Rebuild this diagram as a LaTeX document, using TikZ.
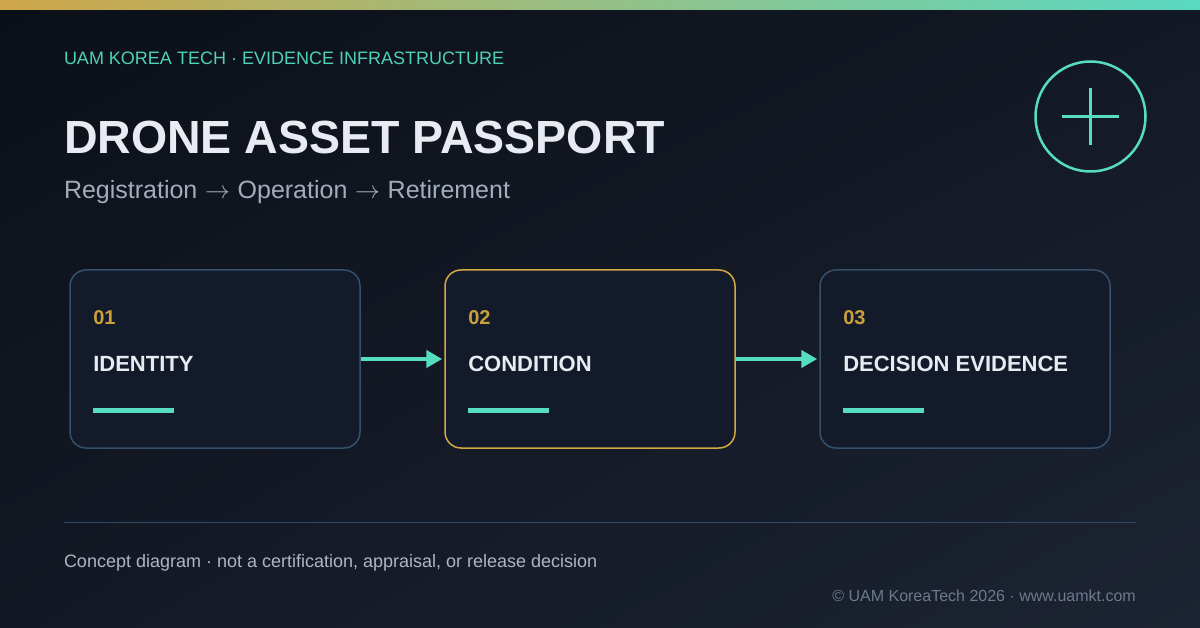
\documentclass[tikz,border=0pt]{standalone}
\usepackage{fontspec}
\setmainfont{Liberation Sans}
\usetikzlibrary{arrows.meta,shadings}
\definecolor{bgA}{HTML}{0B0F18}
\definecolor{bgB}{HTML}{131924}
\definecolor{bgC}{HTML}{1C2332}
\definecolor{barGold}{HTML}{CFA64A}
\definecolor{barTeal}{HTML}{5AD9C2}
\definecolor{teal}{HTML}{56DCC0}
\definecolor{headTeal}{HTML}{4FD1B5}
\definecolor{gold}{HTML}{D4A843}
\definecolor{numGold}{HTML}{C9A03C}
\definecolor{boxFill}{HTML}{131B2A}
\definecolor{boxLine}{HTML}{34506C}
\definecolor{titleWhite}{HTML}{E8ECF2}
\definecolor{subGrey}{HTML}{A3ADBA}
\definecolor{footGrey}{HTML}{AEB6C2}
\definecolor{copyGrey}{HTML}{6B7A90}
\definecolor{sepLine}{HTML}{2F4A68}
\newcommand{\rarr}{\hspace{0.03em}$\rightarrow$\hspace{0.03em}}
\tikzset{
  txt/.style={anchor=base west, inner sep=0pt, outer sep=0pt},
  card/.style={rectangle, rounded corners=16pt, minimum width=290pt, minimum height=178pt, fill=boxFill, draw=boxLine, line width=1.5pt, inner sep=0pt},
  goldcard/.style={card, draw=gold},
  numtxt/.style={txt, text=numGold, font=\fontsize{20}{24}\selectfont\bfseries},
  labtxt/.style={txt, text=titleWhite, font=\fontsize{22}{26}\selectfont\bfseries},
  accent/.style={fill=teal, draw=none},
  flow/.style={draw=teal, line width=4.5pt, -{Triangle[length=16pt,width=17pt]}, shorten >=2pt},
  icon/.style={draw=teal, line width=2.5pt}
}
\begin{document}
\begin{tikzpicture}[x=1pt,y=-1pt]
\useasboundingbox (0,0) rectangle (1200,628);
\shade[upper left=bgA, upper right=bgB, lower left=bgB, lower right=bgC] (0,0) rectangle (1200,628);
\shade[left color=barGold, right color=barTeal] (0,0) rectangle (1200,10);

\node[txt, text=headTeal, font=\fontsize{18}{22}\selectfont] (hdr) at (64,65) {UAM KOREA TECH · EVIDENCE INFRASTRUCTURE};
\node[txt, text=titleWhite, font=\fontsize{46.5}{52}\selectfont\bfseries] (title) at (64,154) {DRONE ASSET PASSPORT};
\node[txt, text=subGrey, font=\fontsize{25}{30}\selectfont] (sub) at (64,199) {Registration \rarr{} Operation \rarr{} Retirement};

% icon
\node[circle, icon, minimum size=110pt, inner sep=0pt] (ring) at (1090.5,116.5) {};
\draw[icon] (1062,116.5) -- (1119,116.5);
\draw[icon] (1090.5,88) -- (1090.5,145);

% cards
\node[card] (b1) at (215,359) {};
\node[goldcard] (b2) at (590,359) {};
\node[card] (b3) at (965,359) {};

\foreach \b/\n/\l in {b1/01/IDENTITY, b2/02/CONDITION, b3/03/DECISION EVIDENCE}{
  \node[numtxt] (\b num) at ([shift={(24,55)}]\b.north west) {\n};
  \node[labtxt] (\b lab) at ([shift={(24,102)}]\b.north west) {\l};
  \fill[accent] ([shift={(24,139)}]\b.north west) rectangle ([shift={(105,144)}]\b.north west);
}

\draw[flow] (b1.east) -- (b2.west);
\draw[flow] (b2.east) -- (b3.west);

% footer
\coordinate (sepL) at (64,522);
\coordinate (sepR) at (1136,522);
\draw[sepLine, line width=1pt] (sepL) -- (sepR);
\node[txt, text=footGrey, font=\fontsize{18}{22}\selectfont] (foot) at (64,567) {Concept diagram · not a certification, appraisal, or release decision};
\node[anchor=base east, inner sep=0pt, text=copyGrey, font=\fontsize{16}{20}\selectfont] (copy) at (1136,601) {© UAM KoreaTech 2026 · www.uamkt.com};
\end{tikzpicture}
\end{document}
